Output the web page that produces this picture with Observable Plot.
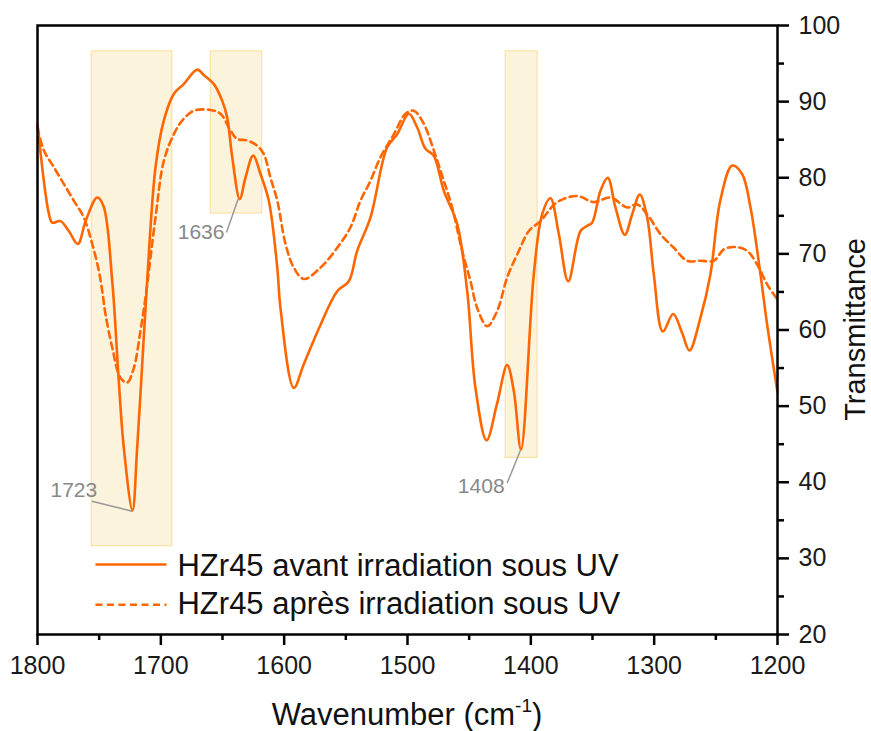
<!DOCTYPE html>
<html><head><meta charset="utf-8">
<script src="https://cdn.jsdelivr.net/npm/d3@7"></script>
<script src="https://cdn.jsdelivr.net/npm/@observablehq/plot@0.6"></script>
<style>body{margin:0;background:#fff} #chart{position:absolute;left:0;top:0}</style>
</head><body><div id="chart"></div><script>
// Solid: HZr45 avant irradiation sous UV
const wnBefore = [1800,1790.8,1788,1781.4,1774.6,1767.3,1761,1751.6,1746.5,1739.4,1734.1,1730,1723,1719.2,1715.1,1711.1,1704.3,1697.6,1689.5,1681.4,1670.5,1665.2,1657,1650.2,1646.2,1642.1,1636,1631.4,1625.1,1619.2,1612.5,1605.6,1603,1592.2,1584.1,1570.5,1557,1547.6,1540.8,1530,1516.5,1508.4,1498.9,1492.1,1485.4,1478.7,1470.6,1459.7,1451.6,1444.9,1435.9,1427.3,1419.2,1413.8,1408,1397.6,1390.8,1384.1,1377.3,1369.7,1359.7,1354.3,1350.3,1343.5,1337.6,1331.4,1323.8,1317.8,1311.7,1305.7,1300.3,1293,1284.6,1277.3,1271.4,1262.5,1254.4,1246.4,1236.7,1228.7,1221.9,1213.8,1208.4,1200];
const tBefore  = [87.0,75.3,74.1,74.3,73.0,71.3,74.3,77.4,76.3,66.4,53.3,44.5,36.3,44.5,55.5,66.4,81.4,87.5,91.0,92.3,94.2,93.5,92.3,90.1,87.9,82.7,77.2,80.0,82.9,80.5,77.0,68.2,62.9,52.4,55.5,60.7,65.1,66.4,70.4,74.8,84.0,85.7,88.4,86.6,83.8,82.9,78.3,73.9,65.1,52.4,45.5,50.4,55.4,52.0,44.3,67.3,75.2,77.3,72.6,66.4,73.0,73.7,74.1,78.3,80.0,76.1,72.5,75.2,77.8,74.8,67.3,59.8,62.1,59.6,57.3,61.6,67.3,77.0,81.6,80.5,76.1,67.3,60.7,51.8];
// Dashed: HZr45 après irradiation sous UV
const wnAfter = [1800,1794.9,1786.8,1778.7,1770.6,1762.5,1755.6,1750.3,1747.5,1744.9,1739.4,1732.7,1727.3,1721.9,1716.5,1712.4,1704.3,1697.6,1689.5,1682.7,1673.3,1659.7,1651.6,1643.5,1638.1,1630,1621.9,1616.5,1611.1,1605.6,1598.9,1592.2,1584.1,1570.5,1557,1546.2,1538.1,1530,1521.9,1511.1,1501.6,1494.9,1486.8,1478.7,1470.6,1463.8,1455.7,1448.9,1443.5,1435.4,1427.3,1419.2,1409.7,1401.6,1392.2,1378.6,1362.4,1348.9,1335.4,1321.9,1313.8,1305.7,1294.9,1284.1,1273.2,1262.5,1251.6,1243.5,1234.1,1224.6,1216.5,1208.4,1200];
const tAfter  = [86.6,83.6,81.4,79.2,77.0,74.8,71.3,67.8,65.1,62.1,57.7,53.7,53.1,55.0,59.9,64.3,74.8,82.2,85.7,87.5,88.8,88.9,88.4,86.2,85.1,84.9,84.2,83.1,80.0,77.0,71.3,68.2,66.7,68.2,70.8,73.5,77.0,79.6,82.7,85.7,88.4,88.8,87.1,83.6,79.6,76.1,70.4,66.4,62.9,60.5,62.5,66.9,70.4,73.0,74.3,76.8,77.6,76.8,77.4,76.1,76.5,75.2,72.6,70.8,69.1,69.1,69.1,70.6,70.9,70.4,68.6,66.0,64.0];

// Highlighted bands
const bandX1 = [1756, 1659.5, 1420.3];
const bandX2 = [1690.7, 1617.8, 1394.5];
const bandYLow = [31.6, 75.3, 43.2];
const bandYHigh = [96.6, 96.6, 96.6];

// Peak labels
const peakLabels = ["1723", "1636", "1408"];
const peakWn = [1723.2, 1637.3, 1408.4];
const peakT = [36.2, 77.2, 44.2];

// Ticks
const xMajor = [1800, 1700, 1600, 1500, 1400, 1300, 1200];
const xMinor = [1750, 1650, 1550, 1450, 1350, 1250];
const yMajor = [20, 30, 40, 50, 60, 70, 80, 90, 100];
const yMinor = [25, 35, 45, 55, 65, 75, 85, 95];

const seriesNames = ["HZr45 avant irradiation sous UV", "HZr45 après irradiation sous UV"];

const before = wnBefore.map((w, i) => ({wn: w, t: tBefore[i]}));
const after = wnAfter.map((w, i) => ({wn: w, t: tAfter[i]}));
const bands = bandX1.map((x, i) => ({x1: x, x2: bandX2[i], y1: bandYLow[i], y2: bandYHigh[i]}));
// label anchor placement (layout)
const labelPos = [
  {x1: 1756.0, y1: 37.5, tx: 1751.6, ty: 38.9},
  {x1: 1646.8, y1: 72.8, tx: 1648.4, ty: 72.8},
  {x1: 1419.2, y1: 39.9, tx: 1421.3, ty: 39.5}
];
const annots = peakLabels.map((l, i) => ({label: l, x2: peakWn[i], y2: peakT[i], ...labelPos[i]}));
const legend = [
  {name: seriesNames[0], x1: 1753, x2: 1695.4, y: 29.2, ty: 29.0, dash: null},
  {name: seriesNames[1], x1: 1753, x2: 1695.4, y: 23.9, ty: 24.0, dash: "7,4.5"}
];

const orange = "#FF6600";
const font = "Arial, 'Liberation Sans', sans-serif";

const plot = Plot.plot({
  width: 871, height: 731,
  marginLeft: 37, marginRight: 94, marginTop: 25, marginBottom: 97,
  x: {domain: [1800, 1200]},
  y: {domain: [20, 100]},
  style: {fontFamily: font, fontSize: "25px", color: "#1a1a1a", background: "white"},
  marks: [
    Plot.rect(bands, {x1: "x1", x2: "x2", y1: "y1", y2: "y2", fill: "#FCF3DD", stroke: "#FBE2A6", strokeWidth: 1.2}),
    Plot.line(after, {x: "wn", y: "t", stroke: orange, strokeWidth: 2.6, strokeDasharray: "7,4.5", curve: "catmull-rom"}),
    Plot.line(before, {x: "wn", y: "t", stroke: orange, strokeWidth: 2.6, curve: "catmull-rom"}),
    Plot.link(annots, {x1: "x1", y1: "y1", x2: "x2", y2: "y2", stroke: "#999", strokeWidth: 1.5}),
    Plot.text(annots, {x: "tx", y: "ty", text: "label", textAnchor: "end", fill: "#888", fontSize: 21}),
    Plot.link(legend.filter(d => !d.dash), {x1: "x1", x2: "x2", y1: "y", y2: "y", stroke: orange, strokeWidth: 2.6}),
    Plot.link(legend.filter(d => d.dash), {x1: "x1", x2: "x2", y1: "y", y2: "y", stroke: orange, strokeWidth: 2.6, strokeDasharray: "7,4.5"}),
    Plot.text(legend, {x: d => 1686.5, y: "ty", text: "name", textAnchor: "start", fill: "#111", fontSize: 31}),
    Plot.axisX({ticks: xMajor, tickSize: 11, tickPadding: 11, strokeWidth: 2.5, stroke: "black", fill: "#1a1a1a", label: null, tickFormat: d => String(d)}),
    Plot.axisX({ticks: xMinor, tickSize: 6, text: null, strokeWidth: 2.5, stroke: "black", label: null}),
    Plot.axisY({anchor: "right", ticks: yMajor, tickSize: 11, tickPadding: 10, strokeWidth: 2.5, stroke: "black", fill: "#1a1a1a", label: null, tickFormat: d => String(d)}),
    Plot.axisY({anchor: "right", ticks: yMinor, tickSize: 6, text: null, strokeWidth: 2.5, stroke: "black", label: null}),
    Plot.frame({stroke: "black", strokeWidth: 2.5})
  ]
});

const svg = d3.select(plot);
const xr = plot.scale("x").range, yr = plot.scale("y").range;
const xMid = (xr[0] + xr[1]) / 2, yMid = (yr[0] + yr[1]) / 2;
const xt = svg.append("text").attr("x", xMid).attr("y", 725).attr("text-anchor", "middle")
  .attr("font-family", font).attr("font-size", 31).attr("fill", "#111");
xt.append("tspan").text("Wavenumber (cm");
xt.append("tspan").text("-1").attr("font-size", 19).attr("dy", -13);
xt.append("tspan").text(")").attr("dy", 13);
svg.append("text").attr("transform", `translate(865,${yMid}) rotate(-90)`).attr("text-anchor", "middle")
  .attr("font-family", font).attr("font-size", 29).attr("fill", "#111").text("Transmittance");

document.getElementById("chart").append(plot);
</script></body></html>
